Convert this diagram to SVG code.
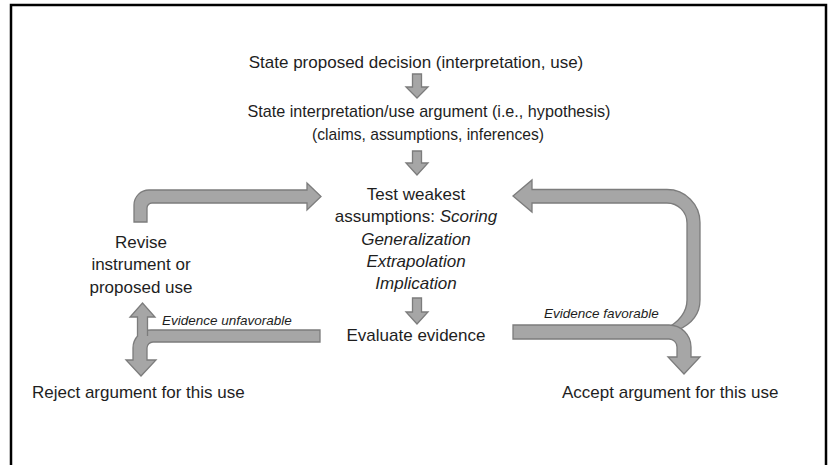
<svg xmlns="http://www.w3.org/2000/svg" width="832" height="465" viewBox="0 0 832 465">
<style>
text{font-family:"Liberation Sans",Arial,sans-serif;font-size:17px;fill:#1e1e1e}
.c{text-anchor:middle}
.i{font-style:italic}
.s{font-size:13.5px;font-style:italic}
.a{fill:#a6a6a6;stroke:#7c7c7c;stroke-width:1.3;stroke-linejoin:miter}
</style>
<rect x="0" y="0" width="832" height="465" fill="#fff"/>
<rect x="11" y="5" width="815" height="480" fill="none" stroke="#000" stroke-width="2.5"/>

<g id="connectors">
  <path class="a" d="M412.5,74 H421.5 V87 H428 L417,98 L406,87 H412.5 Z"/>
  <path class="a" d="M412.5,151 H421.5 V163 H428 L417,175 L406,163 H412.5 Z"/>
  <path class="a" d="M412.5,298 H421.5 V312 H428 L417,324 L406,312 H412.5 Z"/>
  <path class="a" d="M134,222 V205 A15,15 0 0 1 149,190 H307 V183 L321,196.5 L307,210 V203 H152 A5,5 0 0 0 147,208 V222 Z"/>
  <path class="a" d="M513,196 L532,180 V189.5 H667 A33,33 0 0 1 700,222.5 V300 Q700,320 678,330 L664,330 Q687,318 687,300 V223 A20,20 0 0 0 667,203 H532 V212 Z"/>
  <path class="a" d="M513,325 H669 A22,22 0 0 1 691,347 V357 H700 L684,374 L668,357 H677 V347 A8,8 0 0 0 669,339 H513 Z"/>
  <path class="a" d="M320,330 H151 A18,18 0 0 0 133,348 V360 H126 L141,376 L156,360 H147 V348 A6,6 0 0 1 153,342 H320 Z"/>
  <path class="a" d="M137.5,336 V317 H130 L142.5,303 L155,317 H147.5 V336"/>
</g>

<g id="n-decision"><text class="c" x="416" y="68">State proposed decision (interpretation, use)</text></g>
<g id="n-argument">
  <text class="c" x="429" y="117" textLength="363" lengthAdjust="spacingAndGlyphs">State interpretation/use argument (i.e., hypothesis)</text>
  <text class="c" x="428" y="140" textLength="232" lengthAdjust="spacingAndGlyphs">(claims, assumptions, inferences)</text>
</g>
<g id="n-test">
  <text class="c" x="416" y="200">Test weakest</text>
  <text class="c" x="416" y="222">assumptions: <tspan class="i">Scoring</tspan></text>
  <text class="c i" x="416" y="245">Generalization</text>
  <text class="c i" x="416" y="267">Extrapolation</text>
  <text class="c i" x="416" y="289">Implication</text>
</g>
<g id="n-evaluate"><text class="c" x="416" y="341">Evaluate evidence</text></g>
<g id="n-revise">
  <text class="c" x="141" y="248">Revise</text>
  <text class="c" x="141" y="270">instrument or</text>
  <text class="c" x="141" y="293">proposed use</text>
</g>
<g id="n-reject"><text x="32" y="398">Reject argument for this use</text></g>
<g id="n-accept"><text x="562" y="398">Accept argument for this use</text></g>
<g id="l-unfav"><text class="s" x="162" y="325">Evidence unfavorable</text></g>
<g id="l-fav"><text class="s" x="544" y="318">Evidence favorable</text></g>
</svg>
